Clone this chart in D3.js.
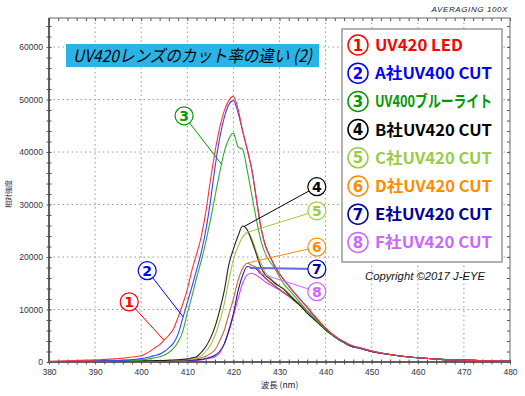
<!DOCTYPE html>
<html>
<head>
<meta charset="utf-8">
<script src="https://cdn.jsdelivr.net/npm/d3@7"></script>
<style>
  body { margin: 0; background: #fff; }
  svg { display: block; }
  .tick text { font-family: "Liberation Sans", Arial, sans-serif; font-size: 8.5px; fill: #334; }
</style>
</head>
<body>
<div class="root"></div>
<script>
// wavelength samples (nm)
var wavelengths = [380, 385, 390, 395, 398,
  400, 401, 402, 403, 404, 405, 406, 407, 408, 409,
  410, 411, 412, 413, 414, 415, 416, 417, 418, 419,
  420, 421, 422, 423, 424, 425, 426, 427, 428, 429,
  430, 431, 432, 433, 434, 435, 436, 437, 438, 439,
  440, 441, 442, 443, 444, 445, 448, 450, 455, 460, 465, 470, 475, 480];

var uvLed = [150, 250, 400, 650, 950,
  1200, 1550, 2100, 2700, 3300, 4200, 5100, 6300, 8500, 11000,
  13800, 17500, 20500, 23800, 28500, 34500, 40000, 44500, 47800, 49800,
  50600, 48200, 44000, 40500, 36600, 31000, 25500, 22000, 20000, 18200,
  16800, 15600, 14500, 13400, 12400, 11400, 10500, 9400, 8400, 7400,
  6500, 5700, 5000, 4400, 3900, 3400, 2600, 2100, 1300, 800, 500, 350, 250, 180];

var companyA400 = [100, 150, 200, 300, 450,
  640, 800, 1000, 1250, 1500, 2000, 2700, 3600, 5300, 8300,
  11300, 14300, 17500, 20800, 25000, 30500, 37000, 42500, 46500, 49000,
  49800, 47500, 44000, 40500, 36600, 31000, 25500, 22000, 20000, 18200,
  16800, 15600, 14500, 13400, 12400, 11400, 10400, 9300, 8300, 7300,
  6400, 5600, 4900, 4300, 3800, 3300, 2500, 2100, 1300, 800, 500, 350, 250, 180];

var blueLight400 = [80, 100, 150, 200, 300,
  400, 500, 650, 800, 1000, 1300, 1800, 2600, 3800, 5800,
  9300, 12500, 16000, 19200, 22800, 27000, 31500, 36000, 40000, 42500,
  43600, 41000, 40500, 36500, 31800, 27100, 23000, 20500, 19000, 17800,
  16200, 14800, 13800, 12800, 11800, 10800, 9800, 8900, 8000, 7100,
  6300, 5500, 4800, 4200, 3700, 3300, 2500, 2100, 1300, 800, 500, 350, 250, 180];

var companyB420 = [100, 120, 150, 170, 180,
  200, 220, 240, 260, 280, 300, 330, 370, 420, 500,
  600, 800, 1000, 1800, 2900, 4500, 6700, 9800, 13500, 18500,
  21500, 24000, 25900, 25200, 23000, 20500, 18000, 16500, 15800, 15000,
  14400, 13800, 12900, 12000, 11200, 10300, 9300, 8500, 7700, 6900,
  6100, 5400, 4800, 4200, 3700, 3200, 2500, 2000, 1300, 800, 500, 350, 250, 170];

var companyC420 = [100, 120, 150, 170, 180,
  200, 210, 230, 250, 270, 290, 310, 340, 380, 440,
  500, 600, 800, 1200, 2000, 3200, 5000, 7700, 11000, 15500,
  19500, 22000, 23800, 24600, 23500, 21000, 18800, 17000, 16000, 15200,
  14500, 13900, 13100, 12200, 11400, 10500, 9500, 8600, 7800, 7000,
  6200, 5500, 4800, 4200, 3700, 3200, 2500, 2000, 1300, 800, 500, 350, 250, 170];

var companyD420 = [90, 110, 140, 160, 170,
  190, 200, 220, 240, 260, 280, 300, 320, 350, 380,
  400, 500, 600, 800, 1100, 1600, 2300, 4000, 6000, 9000,
  12000, 15500, 17800, 18800, 18400, 18000, 17000, 16000, 15200, 14500,
  13800, 13200, 12600, 11900, 11200, 10400, 9600, 8700, 7900, 7100,
  6200, 5500, 4800, 4200, 3700, 3200, 2500, 2000, 1300, 800, 500, 350, 250, 170];

var companyE420 = [80, 100, 130, 150, 160,
  170, 180, 190, 200, 210, 220, 230, 250, 270, 290,
  300, 350, 400, 500, 700, 900, 1300, 2000, 3400, 6000,
  9200, 13500, 16500, 18200, 18000, 17700, 16800, 15900, 15200, 14500,
  13800, 13200, 12600, 11900, 11200, 10400, 9600, 8700, 7900, 7100,
  6200, 5500, 4800, 4200, 3700, 3200, 2500, 2000, 1300, 800, 500, 350, 250, 170];

var companyF420 = [80, 100, 120, 140, 150,
  160, 170, 180, 190, 200, 210, 220, 230, 240, 250,
  250, 300, 350, 400, 550, 700, 1000, 1700, 3400, 5800,
  8800, 12000, 15000, 16600, 16900, 16500, 15900, 15200, 14700, 14200,
  13700, 13100, 12500, 11800, 11100, 10300, 9500, 8700, 7900, 7100,
  6200, 5500, 4800, 4200, 3700, 3200, 2500, 2000, 1300, 800, 500, 350, 250, 170];

var seriesNames = ["UV420 LED", "A社UV400 CUT", "UV400ブルーライト", "B社UV420 CUT",
  "C社UV420 CUT", "D社UV420 CUT", "E社UV420 CUT", "F社UV420 CUT"];
var seriesValues = [uvLed, companyA400, blueLight400, companyB420,
  companyC420, companyD420, companyE420, companyF420];
var labelColors = ["#ff0000", "#0000ff", "#009900", "#000000", "#99cc44", "#ff8c00", "#000099", "#cc66ff"];
var lineColors = ["#ff3333", "#3344ff", "#33aa33", "#222222", "#a8c040", "#c8643c", "#1a1a99", "#e040e8"];

// annotation bubbles: [nm, value] of the circle, [nm, value] where the leader touches the curve
var calloutCircle = [[397.4, 11450], [401.3, 17400], [409.3, 46900], [438.1, 33400],
  [438.1, 28800], [438.1, 21900], [438.1, 17700], [438.1, 13400]];
var calloutTarget = [[404.9, 4200], [409.1, 8600], [417.5, 37600], [422.3, 25800],
  [422.7, 24600], [423.2, 18900], [423.6, 17900], [425.3, 17000]];

var xTicks = d3.range(380, 481, 10);
var yTicks = d3.range(0, 60001, 10000);

var width = 525, height = 396;
var svg = d3.select(".root").append("svg")
  .attr("width", width)
  .attr("height", height);

var x = d3.scaleLinear().domain([380, 480]).range([49, 510]);
var y = d3.scaleLinear().domain([0, 65535]).range([362, 18]);

// grid
svg.append("g").selectAll("line.gx")
  .data(xTicks.slice(1, -1))
  .enter().append("line")
  .attr("x1", function (d) { return x(d); })
  .attr("x2", function (d) { return x(d); })
  .attr("y1", y(65535))
  .attr("y2", y(0))
  .attr("stroke", "#999")
  .attr("stroke-dasharray", "1.5,3");
svg.append("g").selectAll("line.gy")
  .data(yTicks.slice(1))
  .enter().append("line")
  .attr("x1", x(380))
  .attr("x2", x(480))
  .attr("y1", function (d) { return y(d); })
  .attr("y2", function (d) { return y(d); })
  .attr("stroke", "#999")
  .attr("stroke-dasharray", "1.5,3");

// minor ticks on all four sides
function minorAxis(axis, tx, ty) {
  var g = svg.append("g").attr("transform", "translate(" + tx + "," + ty + ")").call(axis);
  g.select(".domain").remove();
  g.selectAll("line").attr("stroke", "#555");
}
minorAxis(d3.axisBottom(x).tickValues(d3.range(380, 481, 2)).tickSize(5).tickFormat(""), 0, y(0) - 2.5);
minorAxis(d3.axisBottom(x).tickValues(d3.range(380, 481, 2)).tickSize(3).tickFormat(""), 0, y(65535));
minorAxis(d3.axisLeft(y).tickValues(d3.range(0, 65001, 2000)).tickSize(5).tickFormat(""), x(380) + 2.5, 0);
minorAxis(d3.axisLeft(y).tickValues(d3.range(0, 65001, 2000)).tickSize(3).tickFormat(""), x(480), 0);

// tick labels
var gx = svg.append("g").attr("transform", "translate(0," + y(0) + ")")
  .call(d3.axisBottom(x).tickValues(xTicks).tickSize(0).tickPadding(7));
gx.select(".domain").remove();
var gy = svg.append("g").attr("transform", "translate(" + x(380) + ",0)")
  .call(d3.axisLeft(y).tickValues(yTicks).tickSize(0).tickPadding(6).tickFormat(d3.format("d")));
gy.select(".domain").remove();

// frame
svg.append("rect")
  .attr("x", x(380)).attr("y", y(65535))
  .attr("width", x(480) - x(380)).attr("height", y(0) - y(65535))
  .attr("fill", "none")
  .attr("stroke", "#666")
  .attr("stroke-width", 1);
svg.append("line")
  .attr("x1", x(380)).attr("x2", x(380)).attr("y1", y(65535)).attr("y2", y(0))
  .attr("stroke", "#444").attr("stroke-width", 1.5);
svg.append("line")
  .attr("x1", x(380)).attr("x2", x(480)).attr("y1", y(0)).attr("y2", y(0))
  .attr("stroke", "#444").attr("stroke-width", 1.5);

// axis titles
svg.append("text")
  .attr("transform", "translate(11," + y(32000) + ") rotate(-90)")
  .attr("text-anchor", "middle")
  .style("font-family", "'Noto Sans CJK JP', sans-serif")
  .style("font-size", "7px")
  .attr("fill", "#223")
  .text("相対強度");
svg.append("text")
  .attr("x", (x(380) + x(480)) / 2)
  .attr("y", 388)
  .attr("text-anchor", "middle")
  .style("font-family", "'Noto Sans CJK JP', sans-serif")
  .style("font-size", "8.5px")
  .attr("fill", "#223")
  .text("波長 (nm)");

svg.append("text")
  .attr("x", 508).attr("y", 12)
  .attr("text-anchor", "end")
  .style("font-family", "'Liberation Sans', Arial, sans-serif")
  .style("font-size", "8px")
  .style("font-style", "italic")
  .style("letter-spacing", "0.6px")
  .attr("fill", "#222")
  .text("AVERAGING 100X");

// spectra, drawn from the last series to the first
var line = d3.line()
  .x(function (d) { return x(d[0]); })
  .y(function (d) { return y(d[1]); })
  .curve(d3.curveMonotoneX);
var order = [7, 6, 5, 4, 3, 2, 1, 0];
svg.append("g").selectAll("path")
  .data(order)
  .enter().append("path")
  .attr("d", function (i) {
    return line(wavelengths.map(function (w, k) { return [w, seriesValues[i][k]]; }));
  })
  .attr("fill", "none")
  .attr("stroke", function (i) { return lineColors[i]; })
  .attr("stroke-width", 1.1)
  .attr("stroke-linejoin", "round");

// title box
svg.append("rect")
  .attr("x", 66).attr("y", 44).attr("width", 253).attr("height", 23)
  .attr("fill", "#2ab4e6");
svg.append("text")
  .attr("x", 73).attr("y", 62)
  .attr("textLength", 239)
  .attr("lengthAdjust", "spacingAndGlyphs")
  .style("font-family", "'Noto Sans CJK JP', sans-serif")
  .style("font-size", "17px")
  .style("font-style", "italic")
  .attr("fill", "#000")
  .text("UV420レンズのカット率の違い (2)");

// callouts
var callouts = svg.append("g").selectAll("g")
  .data(d3.range(8))
  .enter().append("g");
callouts.append("line")
  .attr("x1", function (i) { return x(calloutCircle[i][0]); })
  .attr("y1", function (i) { return y(calloutCircle[i][1]); })
  .attr("x2", function (i) { return x(calloutTarget[i][0]); })
  .attr("y2", function (i) { return y(calloutTarget[i][1]); })
  .attr("stroke", function (i) { return i == 6 ? "#6666dd" : labelColors[i]; })
  .attr("stroke-width", function (i) { return i == 6 ? 2 : 1; });
callouts.append("circle")
  .attr("cx", function (i) { return x(calloutCircle[i][0]); })
  .attr("cy", function (i) { return y(calloutCircle[i][1]); })
  .attr("r", 9)
  .attr("fill", "#fff")
  .attr("stroke", function (i) { return labelColors[i]; })
  .attr("stroke-width", 1.2);
callouts.append("text")
  .attr("x", function (i) { return x(calloutCircle[i][0]); })
  .attr("y", function (i) { return y(calloutCircle[i][1]) + 5; })
  .attr("text-anchor", "middle")
  .style("font-family", "'DejaVu Sans', sans-serif")
  .style("font-size", "14px")
  .style("font-weight", "bold")
  .attr("fill", function (i) { return labelColors[i]; })
  .text(function (i) { return i + 1; });

// legend
var legend = svg.append("g");
legend.append("rect")
  .attr("x", 342).attr("y", 29).attr("width", 160).attr("height", 233)
  .attr("fill", "#fff")
  .attr("stroke", "#999")
  .attr("stroke-width", 1.5);
var textWidths = [88, 117, 117, 117, 117, 117, 117, 117];
var items = legend.selectAll("g.item")
  .data(d3.range(8))
  .enter().append("g")
  .attr("transform", function (i) { return "translate(0," + (45 + i * 28.2) + ")"; });
items.append("circle")
  .attr("cx", 358).attr("cy", 0).attr("r", 10)
  .attr("fill", "#fff")
  .attr("stroke", function (i) { return labelColors[i]; })
  .attr("stroke-width", 1.5);
items.append("text")
  .attr("x", 358).attr("y", 5.5)
  .attr("text-anchor", "middle")
  .style("font-family", "'DejaVu Sans', sans-serif")
  .style("font-size", "15px")
  .style("font-weight", "bold")
  .attr("fill", function (i) { return labelColors[i]; })
  .text(function (i) { return i + 1; });
items.append("text")
  .attr("x", 375).attr("y", 6)
  .attr("textLength", function (i) { return textWidths[i]; })
  .attr("lengthAdjust", "spacingAndGlyphs")
  .style("font-family", "'Noto Sans CJK JP', sans-serif")
  .style("font-size", "16px")
  .style("font-weight", "bold")
  .attr("fill", function (i) { return labelColors[i]; })
  .text(function (i) { return seriesNames[i]; });

svg.append("text")
  .attr("x", 365).attr("y", 280)
  .attr("textLength", 120)
  .attr("lengthAdjust", "spacingAndGlyphs")
  .style("font-family", "'Liberation Sans', Arial, sans-serif")
  .style("font-size", "11px")
  .style("font-style", "italic")
  .attr("fill", "#111")
  .text("Copyright ©2017  J-EYE");
</script>
</body>
</html>
